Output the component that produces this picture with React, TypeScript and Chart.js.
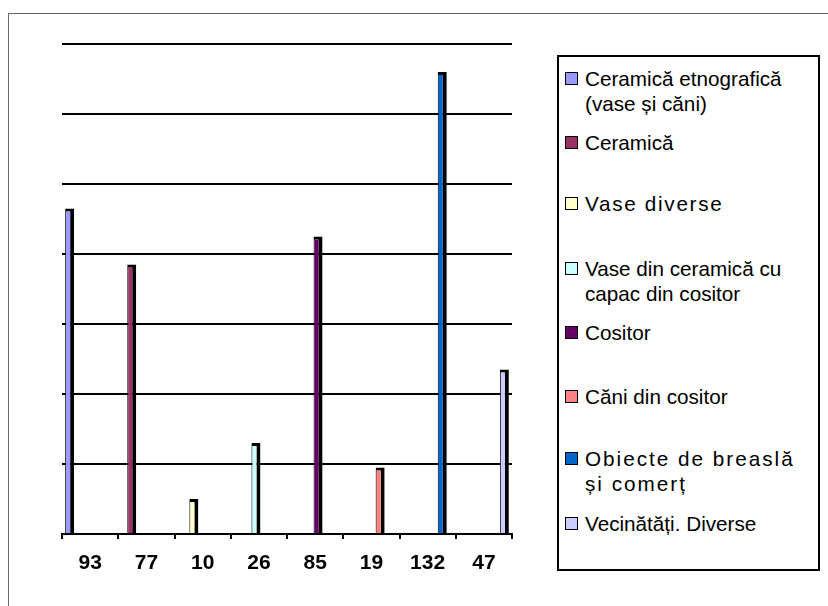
import React, { useEffect, useRef } from "react";
import { Chart, registerables } from "chart.js";

Chart.register(...registerables);

// ---- data ----
const categories = ["93", "77", "10", "26", "85", "19", "132", "47"];
const values = [93, 77, 10, 26, 85, 19, 132, 47];
const seriesNames = [
  "Ceramică etnografică (vase și căni)",
  "Ceramică",
  "Vase diverse",
  "Vase din ceramică cu capac din cositor",
  "Cositor",
  "Căni din cositor",
  "Obiecte de breaslă și comerț",
  "Vecinătăți. Diverse",
];
const seriesColors = ["#9999FF", "#993366", "#FFFFCC", "#CCFFFF", "#660066", "#FF8080", "#0066CC", "#CCCCFF"];
const yMin = 0;
const yMax = 140;
const yStep = 20;

// ---- legend layout (page coordinates: cap-centre of first line) ----
const legendCapCenters = [78, 142, 203.5, 268.5, 332.5, 396.5, 458.5, 523.5];
const legendLetterSpacing = [0, 0, 1.7, 0, 0, 0, 2, 0];

const FONT = '"Liberation Sans", Arial, Helvetica, sans-serif';

export default function App() {
  const canvasRef = useRef<HTMLCanvasElement | null>(null);

  useEffect(() => {
    if (!canvasRef.current) return;
    const datasets = seriesNames.map((name, i) => ({
      label: name,
      data: categories.map((_, j) => (j === i ? values[i] : null)),
      backgroundColor: seriesColors[i],
      borderColor: "#000000",
      borderWidth: { left: 1, right: 4, top: 3, bottom: 0 },
      borderSkipped: false as const,
      categoryPercentage: 0.832,
      barPercentage: 1.54,
    }));

    const chart = new Chart(canvasRef.current, {
      type: "bar",
      data: { labels: categories, datasets: datasets as any },
      options: {
        responsive: false,
        animation: false,
        layout: { padding: { left: 62, right: 28, top: 44, bottom: 27 } },
        plugins: {
          legend: { display: false },
          tooltip: { enabled: false },
          title: { display: false },
        },
        scales: {
          x: {
            type: "category",
            offset: true,
            grid: {
              display: true,
              drawOnChartArea: false,
              drawTicks: true,
              tickLength: 5,
              color: "#000000",
              lineWidth: 2,
              offset: true,
            },
            border: { display: true, color: "#000000", width: 2 },
            ticks: {
              color: "#000000",
              font: { family: FONT, size: 21, weight: "bold" },
              padding: 12,
              autoSkip: false,
              maxRotation: 0,
            },
            afterFit: (s: any) => {
              s.height = 45;
            },
          },
          y: {
            min: yMin,
            max: yMax,
            ticks: { display: false, stepSize: yStep },
            grid: { color: "#000000", lineWidth: 2, drawTicks: false },
            border: { display: false },
            afterFit: (s: any) => {
              s.width = 0;
            },
          },
        },
      } as any,
    });
    return () => chart.destroy();
  }, []);

  return (
    <div
      style={{
        position: "fixed",
        left: 0,
        top: 0,
        width: 828,
        height: 606,
        overflow: "hidden",
        background: "#ffffff",
        fontFamily: FONT,
      }}
    >
      <div
        style={{
          position: "absolute",
          left: 8,
          top: 13,
          width: 900,
          height: 700,
          border: "1px solid #666666",
        }}
      />
      <canvas
        ref={canvasRef}
        width={540}
        height={606}
        style={{ position: "absolute", left: 0, top: 0, width: 540, height: 606 }}
      />
      <div
        style={{
          position: "absolute",
          left: 557,
          top: 55,
          width: 263,
          height: 516,
          boxSizing: "border-box",
          border: "2px solid #000000",
          background: "#ffffff",
        }}
      />
      {seriesNames.map((name, i) => (
        <React.Fragment key={name}>
          <div
            style={{
              position: "absolute",
              left: 565,
              top: legendCapCenters[i] - 6.5,
              width: 13,
              height: 13,
              boxSizing: "border-box",
              border: "1px solid #000000",
              background: seriesColors[i],
            }}
          />
          <div
            style={{
              position: "absolute",
              left: 585,
              top: legendCapCenters[i] - 12.3,
              width: 216,
              fontSize: 20.7,
              lineHeight: "25px",
              color: "#000000",
              letterSpacing: legendLetterSpacing[i],
            }}
          >
            {name}
          </div>
        </React.Fragment>
      ))}
    </div>
  );
}
